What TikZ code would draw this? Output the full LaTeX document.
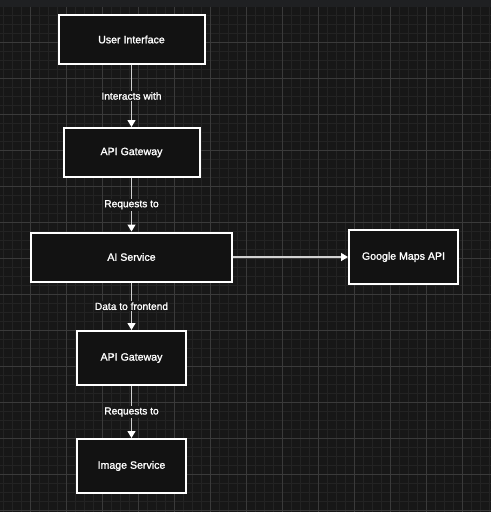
\documentclass[tikz,border=0pt]{standalone}
\usepackage{fontspec}
\setmainfont{Liberation Sans}
\newfontfamily\semibold[FakeBold=1.4]{Liberation Sans}
\usetikzlibrary{arrows.meta}
\definecolor{bgc}{HTML}{171717}
\definecolor{topband}{HTML}{1F2022}
\definecolor{minorc}{HTML}{232323}
\definecolor{majorc}{HTML}{3A3A3A}
\definecolor{boxfill}{HTML}{121212}
\definecolor{linec}{HTML}{D0D0D0}
\tikzset{
  box/.style={draw=white, line width=2pt, fill=boxfill, text=white,
    font=\semibold\fontsize{10.6}{12}\selectfont, inner sep=0pt},
  lbl/.style={fill=bgc, text=white, inner sep=1.2pt,
    font=\semibold\fontsize{10.2}{12}\selectfont},
  conn/.style={draw=linec, line width=1.4pt,
    -{Triangle[length=7pt,width=8pt,fill=white,color=white]}},
  minorline/.style={draw=minorc, line width=0.8pt},
  majorline/.style={draw=majorc, line width=1pt}
}
\begin{document}
\begin{tikzpicture}[x=1pt,y=-1pt]
\useasboundingbox (0,0) rectangle (491,512);
\fill[bgc] (0,0) rectangle (491,512);
\fill[topband] (0,0) rectangle (491,7);
\begin{scope}
\clip (0,7) rectangle (491,512);
\foreach \i in {0,...,55} {
  \pgfmathsetmacro\gx{3.5+9*\i}
  \draw[minorline] (\gx,7) -- (\gx,512);
}
\foreach \i in {0,...,57} {
  \pgfmathsetmacro\gy{6.5+9*\i}
  \draw[minorline] (0,\gy) -- (491,\gy);
}
\foreach \i in {0,...,14} {
  \pgfmathsetmacro\gx{-5.5+36*\i}
  \draw[majorline] (\gx,7) -- (\gx,512);
}
\foreach \i in {0,...,14} {
  \pgfmathsetmacro\gy{6.5+36*\i}
  \draw[majorline] (0,\gy) -- (491,\gy);
}
\end{scope}

\node[box, minimum width=146pt, minimum height=49pt] (ui) at (131.5,39.5) {User Interface};
\node[box, minimum width=136pt, minimum height=49pt] (gw1) at (131.5,152.5) {API Gateway};
\node[box, minimum width=201pt, minimum height=49pt] (ai) at (131.5,257) {AI Service};
\node[box, minimum width=109pt, minimum height=54pt] (gm) at (403.5,257) {Google Maps API};
\node[box, minimum width=109pt, minimum height=54pt] (gw2) at (131.5,358) {API Gateway};
\node[box, minimum width=109pt, minimum height=54pt] (img) at (131.5,466) {Image Service};

\draw[conn] (ui.south) -- node[lbl] {Interacts with} (gw1.north);
\draw[conn] (gw1.south) -- node[lbl] {Requests to} (ai.north);
\draw[conn] (ai.east) -- (gm.west);
\draw[conn] (ai.south) -- node[lbl] {Data to frontend} (gw2.north);
\draw[conn] (gw2.south) -- node[lbl] {Requests to} (img.north);
\end{tikzpicture}
\end{document}
